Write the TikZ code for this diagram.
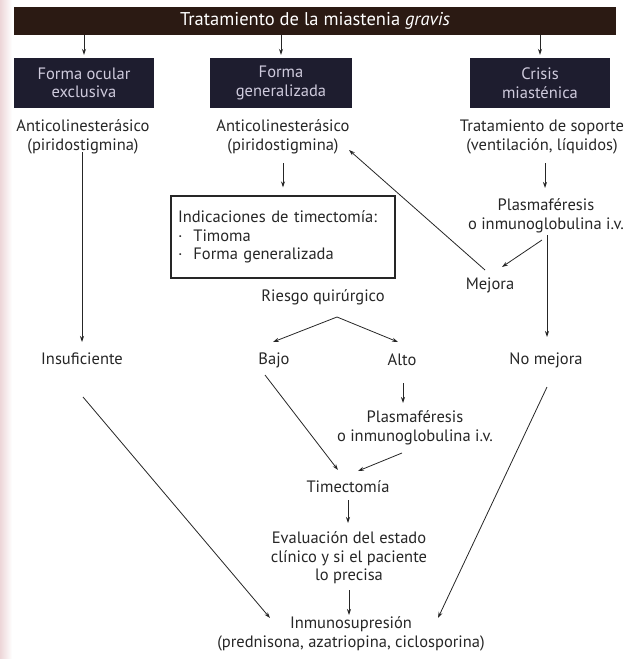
\documentclass[tikz,border=0pt]{standalone}
\usepackage{fontspec}
\setmainfont{PT Sans}
\usetikzlibrary{arrows.meta}
\definecolor{barbrown}{HTML}{2B1A13}
\definecolor{boxnavy}{HTML}{1E1D2F}
\definecolor{boxtext}{HTML}{CFCBDD}
\definecolor{ink}{HTML}{262626}
\definecolor{edgepink}{HTML}{EDD6D8}
\begin{document}
\begin{tikzpicture}[x=1pt,y=-1pt,font=\fontsize{16.5}{18.5}\selectfont,
  txt/.style={align=center,inner sep=0pt,text=ink},
  dark/.style={fill=boxnavy,text=boxtext,align=center,minimum width=140pt,minimum height=50pt,inner sep=0pt},
  arr/.style={-{Stealth[length=6pt,width=4pt]},ink,line width=0.8pt}]

\useasboundingbox (0,0) rectangle (629,659);
\shade[left color=edgepink,right color=white] (0,0) rectangle (12,659);

\node[fill=barbrown,text=white,minimum width=602pt,minimum height=28pt,inner sep=0pt,font=\fontsize{18.5}{19}\selectfont] (title) at (315,21) {Tratamiento de la miastenia \textit{gravis}};

\node[dark] (ocular) at (84,83) {Forma ocular\\exclusiva};
\node[dark,minimum width=142pt] (gener) at (281,83) {Forma\\generalizada};
\node[dark] (crisis) at (540,83) {Crisis\\miasténica};

\begin{scope}[txt]
\node (anti1) at (83,137) {Anticolinesterásico\\(piridostigmina)};
\node (anti2) at (283,137) {Anticolinesterásico\\(piridostigmina)};
\node (soporte) at (542,137) {Tratamiento de soporte\\(ventilación, líquidos)};
\node (plasma1) at (546,216) {Plasmaféresis\\o inmunoglobulina i.v.};
\node (mejora) at (490,285) {Mejora};
\node (riesgo) at (323,297) {Riesgo quirúrgico};
\node (insuf) at (82,359) {Insuficiente};
\node (bajo) at (274,360) {Bajo};
\node (alto) at (402,360) {Alto};
\node (nomejora) at (546,360) {No mejora};
\node (plasma2) at (415,428) {Plasmaféresis\\o inmunoglobulina i.v.};
\node (timect) at (348,487) {Timectomía};
\node (eval) at (349,558) {Evaluación del estado\\clínico y si el paciente\\lo precisa};
\node (inmuno) at (351,634) {Inmunosupresión\\(prednisona, azatriopina, ciclosporina)};
\end{scope}

\node[draw=ink,line width=1.4pt,minimum width=224pt,minimum height=82pt,text width=210pt,align=left,inner sep=0pt,text=ink] (indic) at (283,237) {Indicaciones de timectomía:\\·~~Timoma\\·~~Forma generalizada};

\begin{scope}[arr,shorten >=3pt]
\draw (title.south -| ocular) -- (ocular.north);
\draw (title.south -| gener) -- (gener.north);
\draw (title.south -| crisis) -- (crisis.north);
\end{scope}

\begin{scope}[arr]
\draw ([xshift=-1pt,yshift=-15pt]anti1.center) -- ([yshift=17pt]insuf.center);
\draw ([yshift=-26pt]anti2.center) -- ([yshift=8pt]indic.north);
\draw ([xshift=3pt,yshift=-26pt]soporte.center) -- ([xshift=-1pt,yshift=28pt]plasma1.center);
\draw ([xshift=-4pt,yshift=-24pt]plasma1.center) -- ([xshift=12pt,yshift=18pt]mejora.center);
\draw ([xshift=1pt,yshift=-19pt]plasma1.center) -- ([xshift=1pt,yshift=23pt]nomejora.center);
\draw ([xshift=-5pt,yshift=15pt]mejora.center) -- ([xshift=66pt,yshift=-13pt]anti2.center);
\draw ([xshift=14pt,yshift=-20pt]riesgo.center) -- ([xshift=-1pt,yshift=18pt]bajo.center);
\draw ([xshift=14pt,yshift=-20pt]riesgo.center) -- ([xshift=-4pt,yshift=18pt]alto.center);
\draw ([xshift=1pt,yshift=-23pt]alto.center) -- ([xshift=-12pt,yshift=25pt]plasma2.center);
\draw ([xshift=-9pt,yshift=-15pt]bajo.center) -- ([xshift=-10pt,yshift=17pt]timect.center);
\draw ([xshift=-13pt,yshift=-25pt]plasma2.center) -- ([xshift=10pt,yshift=16pt]timect.center);
\draw ([yshift=-13pt]timect.center) -- ([xshift=-1pt,yshift=35pt]eval.center);
\draw ([yshift=-32pt]eval.center) -- ([xshift=-2pt,yshift=19pt]inmuno.center);
\draw ([xshift=1pt,yshift=-38pt]insuf.center) -- ([xshift=-81pt,yshift=16pt]inmuno.center);
\draw ([xshift=1pt,yshift=-27pt]nomejora.center) -- ([xshift=87pt,yshift=16pt]inmuno.center);
\end{scope}

\end{tikzpicture}
\end{document}
